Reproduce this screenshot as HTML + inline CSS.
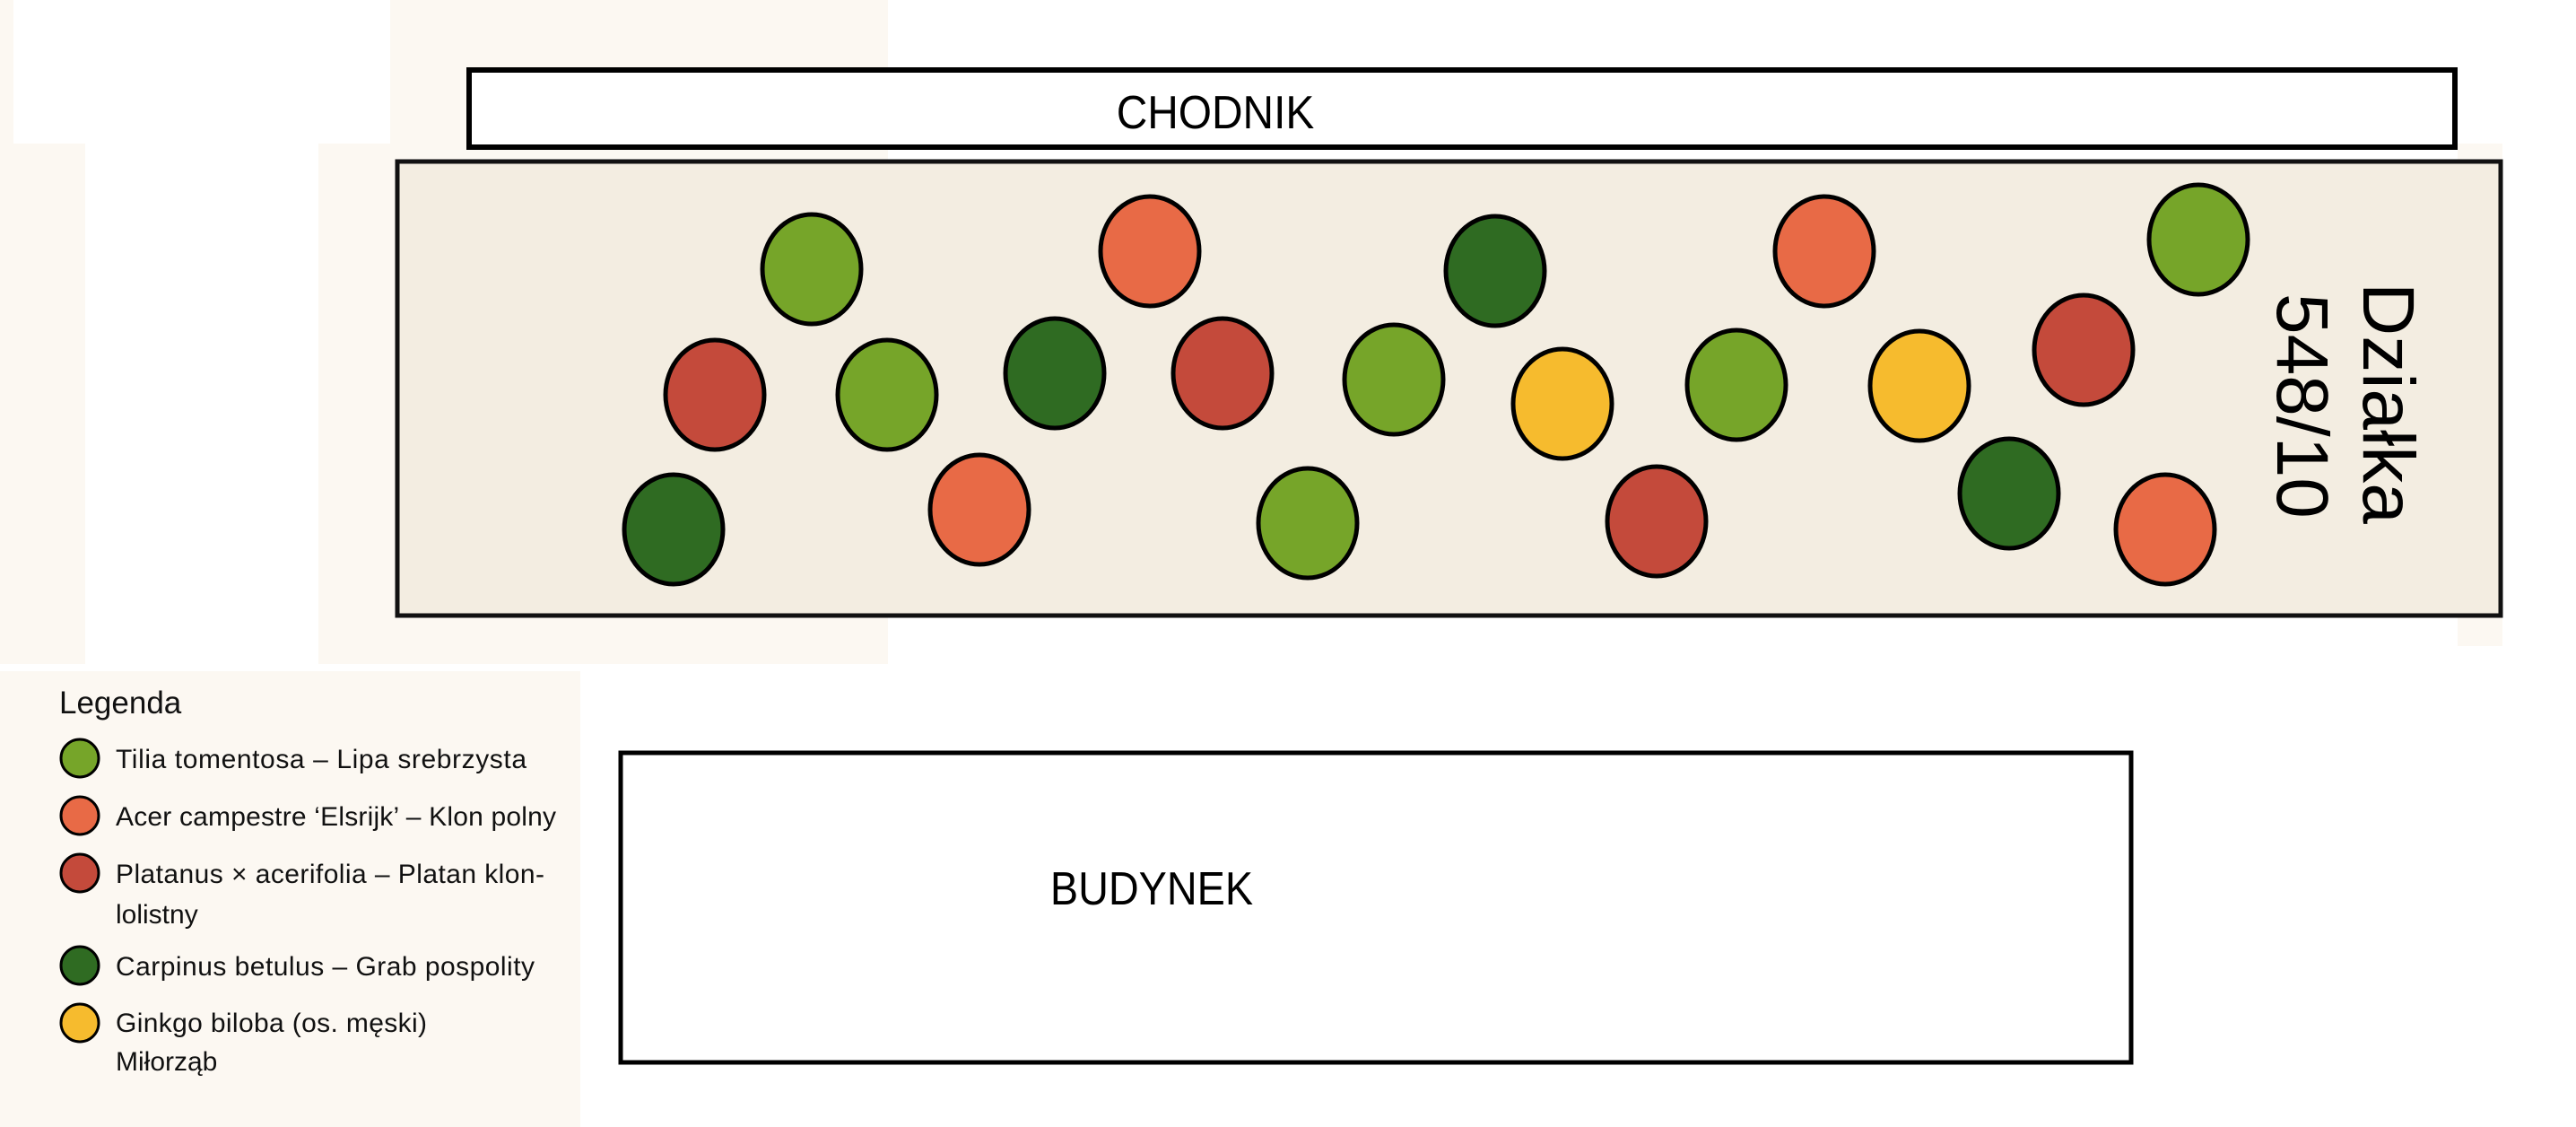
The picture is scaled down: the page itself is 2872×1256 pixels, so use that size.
<!DOCTYPE html>
<html><head><meta charset="utf-8"><style>
html,body{margin:0;padding:0;background:#fff;}
svg{display:block;}
</style></head><body>
<svg width="2872" height="1256" viewBox="0 0 2872 1256" xmlns="http://www.w3.org/2000/svg">
<rect x="0" y="0" width="2872" height="1256" fill="#fff"/>
<rect x="0" y="0" width="990" height="740" fill="#fcf8f2"/>
<rect x="15" y="0" width="420" height="160" fill="#fff"/>
<rect x="95" y="160" width="260" height="590" fill="#fff"/>
<rect x="0" y="748" width="647" height="508" fill="#fcf8f2"/>
<rect x="2740" y="160" width="50" height="560" fill="#fcf8f2"/>
<!-- CHODNIK -->
<rect x="523" y="78" width="2214" height="86" fill="#fff" stroke="#000" stroke-width="6"/>
<text x="1355" y="143" font-family="Liberation Sans, sans-serif" font-size="52" text-anchor="middle" transform="translate(1355 0) scale(0.92 1) translate(-1355 0)">CHODNIK</text>
<!-- plot -->
<rect x="443" y="180" width="2345" height="506" fill="#f3ede1" stroke="#111" stroke-width="5"/>
<g stroke="#000" stroke-width="5">
<ellipse cx="905" cy="300" rx="55" ry="61" fill="#76a529"/>
<ellipse cx="1282" cy="280" rx="55" ry="61" fill="#e86a46"/>
<ellipse cx="1667" cy="302" rx="55" ry="61" fill="#2f6b22"/>
<ellipse cx="2034" cy="280" rx="55" ry="61" fill="#e86a46"/>
<ellipse cx="2451" cy="267" rx="55" ry="61" fill="#76a529"/>
<ellipse cx="797" cy="440" rx="55" ry="61" fill="#c44a3b"/>
<ellipse cx="989" cy="440" rx="55" ry="61" fill="#76a529"/>
<ellipse cx="1176" cy="416" rx="55" ry="61" fill="#2f6b22"/>
<ellipse cx="1363" cy="416" rx="55" ry="61" fill="#c44a3b"/>
<ellipse cx="1554" cy="423" rx="55" ry="61" fill="#76a529"/>
<ellipse cx="1742" cy="450" rx="55" ry="61" fill="#f6bb2e"/>
<ellipse cx="1936" cy="429" rx="55" ry="61" fill="#76a529"/>
<ellipse cx="2140" cy="430" rx="55" ry="61" fill="#f6bb2e"/>
<ellipse cx="2323" cy="390" rx="55" ry="61" fill="#c44a3b"/>
<ellipse cx="751" cy="590" rx="55" ry="61" fill="#2f6b22"/>
<ellipse cx="1092" cy="568" rx="55" ry="61" fill="#e86a46"/>
<ellipse cx="1458" cy="583" rx="55" ry="61" fill="#76a529"/>
<ellipse cx="1847" cy="581" rx="55" ry="61" fill="#c44a3b"/>
<ellipse cx="2240" cy="550" rx="55" ry="61" fill="#2f6b22"/>
<ellipse cx="2414" cy="590" rx="55" ry="61" fill="#e86a46"/>
</g>
<text font-family="Liberation Sans, sans-serif" font-size="82" transform="translate(2635 315) rotate(90)">Działka</text>
<text font-family="Liberation Sans, sans-serif" font-size="82" transform="translate(2539 327) rotate(90)">548/10</text>
<!-- BUDYNEK -->
<rect x="692" y="839" width="1684" height="345" fill="#fff" stroke="#000" stroke-width="5"/>
<text x="1284" y="1008" font-family="Liberation Sans, sans-serif" font-size="52" text-anchor="middle" transform="translate(1284 0) scale(0.9 1) translate(-1284 0)">BUDYNEK</text>
<!-- legend -->
<g font-family="Liberation Sans, sans-serif" fill="#111">
<text x="66" y="795" font-size="35">Legenda</text>
<g stroke="#000" stroke-width="3">
<circle cx="89" cy="845" r="21" fill="#76a529"/>
<circle cx="89" cy="909" r="21" fill="#e86a46"/>
<circle cx="89" cy="973" r="21" fill="#c44a3b"/>
<circle cx="89" cy="1076" r="21" fill="#2f6b22"/>
<circle cx="89" cy="1140" r="21" fill="#f6bb2e"/>
</g>
<g font-size="30">
<text x="129" y="856" textLength="458">Tilia tomentosa – Lipa srebrzysta</text>
<text x="129" y="920" textLength="491">Acer campestre ‘Elsrijk’ – Klon polny</text>
<text x="129" y="984" textLength="478">Platanus × acerifolia – Platan klon-</text>
<text x="129" y="1029">lolistny</text>
<text x="129" y="1087" textLength="467">Carpinus betulus – Grab pospolity</text>
<text x="129" y="1150" textLength="347">Ginkgo biloba (os. męski)</text>
<text x="129" y="1193">Miłorząb</text>
</g>
</g>
</svg>
</body></html>
